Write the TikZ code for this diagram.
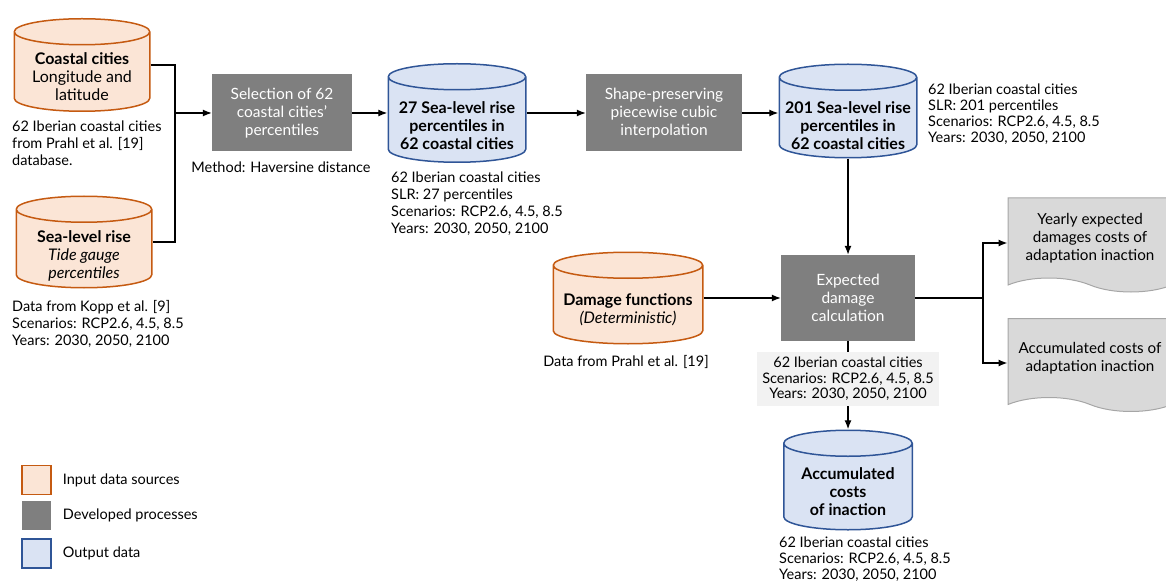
\documentclass[tikz,border=0pt]{standalone}
\usepackage{fontspec}
\setmainfont{Lato}
\usetikzlibrary{shapes.symbols, arrows, arrows.meta, positioning, calc}
\tikzset{>={Latex[length=9pt,width=7pt]}}
\definecolor{inpfill}{HTML}{FBE5D6}
\definecolor{inpdraw}{HTML}{C55A11}
\definecolor{outfill}{HTML}{DAE3F3}
\definecolor{outdraw}{HTML}{2F5597}
\definecolor{procfill}{HTML}{7F7F7F}
\definecolor{docfill}{HTML}{D9D9D9}
\definecolor{docdraw}{HTML}{A6A6A6}
\definecolor{notefill}{HTML}{F2F2F2}

\begin{document}
\begin{tikzpicture}[x=1pt,y=-1pt,
    every node/.style={font=\fontsize{14.5}{17}\selectfont, inner sep=0pt},
    db/.style 2 args={rectangle, path picture={
        \draw[line width=1.5pt, draw=#1, fill=#2]
            let \p1=(path picture bounding box.north west), \p2=(path picture bounding box.south east),
                \n1={(\x2-\x1)/2-0.75pt}, \n2={\x1+0.75pt}, \n3={\x2-0.75pt},
                \n4={\y1-13.75pt}, \n5={\y2+13.75pt} in
            (\n2,\n4) -- (\n2,\n5) arc[start angle=180, end angle=360, x radius=\n1, y radius=13pt]
            -- (\n3,\n4) arc[start angle=0, end angle=180, x radius=\n1, y radius=13pt] -- cycle
            (\n2,\n4) arc[start angle=180, end angle=360, x radius=\n1, y radius=13pt];
    }},
    dbtext/.style={align=center, font=\fontsize{16}{18}\selectfont},
    input/.style={db={inpdraw}{inpfill}},
    output/.style={db={outdraw}{outfill}},
    proc/.style={rectangle, fill=procfill, text=white, align=center, font=\fontsize{15.5}{18}\selectfont},
    note/.style={align=left, anchor=north west},
    doc/.style={tape, tape bend top=none, tape bend bottom=out and in, tape bend height=14pt, fill=docfill, draw=docdraw, line width=1pt, align=center, font=\fontsize{15.2}{18}\selectfont},
    key/.style={rectangle, minimum width=29pt, minimum height=29pt, line width=1.3pt},
    link/.style={line width=1.3pt},
    flow/.style={->, line width=1.3pt}]
    \useasboundingbox (0,0) rectangle (1166,585);

    % inputs
    \node[input, minimum width=137pt, minimum height=94pt,
        label={[dbtext, yshift=-12pt]center:\textbf{Coastal cities}\\Longitude and\\latitude}] (cc) at (82,65) {};
    \node[input, minimum width=137pt, minimum height=93pt,
        label={[dbtext, yshift=-14pt]center:\textbf{Sea-level rise}\\\textit{Tide gauge}\\\textit{percentiles}}] (slr) at (84,242) {};
    \node[input, minimum width=151pt, minimum height=93pt,
        label={[dbtext, yshift=-12pt]center:\textbf{Damage functions}\\\textit{(Deterministic)}}] (dmg) at (628,298) {};
    \node[note] (ccn) at (12,121) {62 Iberian coastal cities\\from Prahl et al. [19]\\database.};
    \node[note] (slrn) at (12,300) {Data from Kopp et al. [9]\\Scenarios: RCP2.6, 4.5, 8.5\\Years: 2030, 2050, 2100};
    \node (dmgn) at (626,362) {Data from Prahl et al. [19]};

    % processes
    \node[proc, minimum width=140pt, minimum height=77pt] (sel) at (282,113) {Selection of 62\\coastal cities'\\percentiles};
    \node (seln) at (281,167) {Method: Haversine distance};
    \node[proc, minimum width=156pt, minimum height=77pt] (interp) at (664,113) {Shape-preserving\\piecewise cubic\\interpolation};
    \node[proc, minimum width=134pt, minimum height=86pt] (exp) at (848,298) {Expected\\damage\\calculation};
    \node[fill=notefill, minimum width=182pt, minimum height=54pt, align=center,
        font=\fontsize{14.5}{15.5}\selectfont] (expn) at (848,379) {62 Iberian coastal cities\\Scenarios: RCP2.6, 4.5, 8.5\\Years: 2030, 2050, 2100};

    % outputs
    \node[output, minimum width=139pt, minimum height=100pt,
        label={[dbtext, yshift=-13pt]center:\textbf{27 Sea-level rise}\\\textbf{percentiles in}\\\textbf{62 coastal cities}}] (p27) at (457,113) {};
    \node[note] (p27n) at (391,172) {62 Iberian coastal cities\\SLR: 27 percentiles\\Scenarios: RCP2.6, 4.5, 8.5\\Years: 2030, 2050, 2100};
    \node[output, minimum width=139pt, minimum height=95pt,
        label={[dbtext, yshift=-15pt]center:\textbf{201 Sea-level rise}\\\textbf{percentiles in}\\\textbf{62 coastal cities}}] (p201) at (848,111) {};
    \node[note, font=\fontsize{14.5}{16}\selectfont] (p201n) at (928,84) {62 Iberian coastal cities\\SLR: 201 percentiles\\Scenarios: RCP2.6, 4.5, 8.5\\Years: 2030, 2050, 2100};
    \node[output, minimum width=130pt, minimum height=101pt,
        label={[dbtext, yshift=-12pt]center:\textbf{Accumulated}\\\textbf{costs}\\\textbf{of inaction}}] (acc) at (848,480) {};
    \node[note, font=\fontsize{14.5}{16}\selectfont] (accn) at (779,537) {62 Iberian coastal cities\\Scenarios: RCP2.6, 4.5, 8.5\\Years: 2030, 2050, 2100};
    \node[doc, minimum width=164pt, minimum height=94pt] (yd) at (1090,238) {Yearly expected\\damages costs of\\adaptation inaction};
    \node[doc, minimum width=164pt, minimum height=93pt] (ad) at (1090,358) {Accumulated costs of\\adaptation inaction};

    % legend
    \node[key, draw=inpdraw, fill=inpfill] (k1) at (36.5,480) {};
    \node[key, fill=procfill] (k2) at (36.5,515.5) {};
    \node[key, draw=outdraw, fill=outfill] (k3) at (36.5,553.5) {};
    \node[right=11pt of k1] {Input data sources};
    \node[right=11pt of k2] {Developed processes};
    \node[right=11pt of k3] {Output data};

    % connectors
    \coordinate (jn) at (175,113);
    \coordinate (br) at (983,298);
    \draw[link] (cc.east) -| (jn) |- (slr.east);
    \draw[flow] (jn) -- (sel.west);
    \draw[flow] (sel.east) -- (p27.west);
    \draw[flow] (p27.east) -- (interp.west);
    \draw[flow] (interp.east) -- (interp.east -| p201.west);
    \draw[flow] (p201.south) -- (exp.north);
    \draw[flow] (dmg.east) -- (dmg.east -| exp.west);
    \draw[link] (exp.south) -- (expn.north);
    \draw[flow] (expn.south) -- (acc.north);
    \draw[link] (exp.east) -- (br);
    \draw[flow] (br) |- (yd.west |- 0,243);
    \draw[flow] (br) |- (ad.west |- 0,363);
\end{tikzpicture}
\end{document}
